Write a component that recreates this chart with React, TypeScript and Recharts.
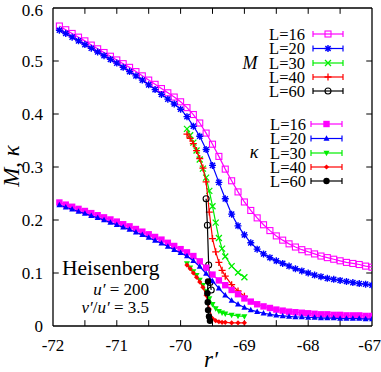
import { ComposedChart, Scatter, XAxis, YAxis, ReferenceLine } from 'recharts';

// r' grid of the L=16 / L=20 runs
const rLong = [
  -71.9, -71.8, -71.7, -71.6, -71.5, -71.4, -71.3, -71.2, -71.1, -71.0,
  -70.9, -70.8, -70.7, -70.6, -70.5, -70.4, -70.3, -70.2, -70.1, -70.0,
  -69.9, -69.8, -69.7, -69.6, -69.5, -69.4, -69.3, -69.2, -69.1, -69.0,
  -68.9, -68.8, -68.7, -68.6, -68.5, -68.4, -68.3, -68.2, -68.1, -68.0,
  -67.9, -67.8, -67.7, -67.6, -67.5, -67.4, -67.3, -67.2, -67.1, -67.0,
];
// r' grid of the L=30 / L=40 runs
const rShort = [
  -69.9, -69.85, -69.8, -69.75, -69.7, -69.65, -69.6, -69.55, -69.5, -69.45,
  -69.4, -69.35, -69.3, -69.2, -69.1, -69.0,
];
const rM60 = [-69.6, -69.58, -69.56, -69.54, -69.52];
const rK60 = [-69.57, -69.58, -69.575, -69.57, -69.555, -69.54];

const mL16 = [
  0.566, 0.559, 0.552, 0.545, 0.538, 0.530, 0.523, 0.516, 0.509, 0.502,
  0.495, 0.488, 0.480, 0.472, 0.464, 0.456, 0.448, 0.440, 0.432, 0.423,
  0.412, 0.399, 0.383, 0.364, 0.343, 0.320, 0.296, 0.274, 0.253, 0.234,
  0.218, 0.204, 0.191, 0.180, 0.170, 0.162, 0.155, 0.149, 0.144, 0.140,
  0.136, 0.132, 0.129, 0.126, 0.123, 0.120, 0.118, 0.116, 0.113, 0.111,
];
const mL20 = [
  0.558, 0.552, 0.545, 0.538, 0.531, 0.524, 0.517, 0.510, 0.503, 0.496,
  0.488, 0.480, 0.472, 0.464, 0.455, 0.446, 0.437, 0.428, 0.419, 0.409,
  0.395, 0.377, 0.358, 0.333, 0.303, 0.271, 0.240, 0.211, 0.189, 0.172,
  0.157, 0.145, 0.136, 0.129, 0.123, 0.118, 0.113, 0.108, 0.104, 0.100,
  0.096, 0.093, 0.090, 0.088, 0.086, 0.084, 0.082, 0.080, 0.079, 0.077,
];
const mL30 = [0.372, 0.360, 0.346, 0.331, 0.314, 0.297, 0.280, 0.255, 0.226, 0.195, 0.166, 0.146, 0.131, 0.113, 0.101, 0.092];
const mL40 = [0.362, 0.354, 0.344, 0.331, 0.316, 0.298, 0.272, 0.215, 0.165, 0.140, 0.120, 0.105, 0.094, 0.078, 0.066, 0.056];
const mL60 = [0.240, 0.190, 0.115, 0.082, 0.068];

const kL16 = [
  0.233, 0.229, 0.225, 0.221, 0.217, 0.213, 0.209, 0.205, 0.201, 0.197,
  0.192, 0.188, 0.183, 0.178, 0.173, 0.168, 0.163, 0.157, 0.151, 0.145,
  0.139, 0.132, 0.122, 0.110, 0.097, 0.086, 0.077, 0.068, 0.060, 0.052,
  0.046, 0.041, 0.037, 0.034, 0.031, 0.029, 0.027, 0.026, 0.025, 0.024,
  0.023, 0.022, 0.022, 0.021, 0.021, 0.020, 0.020, 0.020, 0.019, 0.019,
];
const kL20 = [
  0.228, 0.224, 0.220, 0.216, 0.212, 0.208, 0.204, 0.200, 0.195, 0.191,
  0.186, 0.182, 0.177, 0.172, 0.167, 0.161, 0.156, 0.150, 0.144, 0.138,
  0.132, 0.123, 0.112, 0.099, 0.085, 0.071, 0.058, 0.048, 0.041, 0.035,
  0.030, 0.027, 0.024, 0.022, 0.020, 0.019, 0.018, 0.017, 0.017, 0.016,
  0.016, 0.015, 0.015, 0.015, 0.014, 0.014, 0.014, 0.014, 0.013, 0.013,
];
const kL30 = [0.118, 0.110, 0.103, 0.096, 0.087, 0.077, 0.065, 0.052, 0.041, 0.033, 0.028, 0.025, 0.023, 0.021, 0.019, 0.018];
const kL40 = [0.115, 0.108, 0.100, 0.092, 0.083, 0.073, 0.058, 0.032, 0.014, 0.010, 0.008, 0.007, 0.007, 0.006, 0.006, 0.006];
const kL60 = [0.084, 0.062, 0.045, 0.030, 0.018, 0.010];

const xLabels = [-72, -71, -70, -69, -68, -67];
const yLabels = [0, 0.1, 0.2, 0.3, 0.4, 0.5, 0.6];
const xMinor = [-71.5, -71, -70.5, -70, -69.5, -69, -68.5, -68, -67.5];
const yMinor = [0.1, 0.2, 0.3, 0.4, 0.5];

const MAGENTA = '#ff00ff';
const BLUE = '#0000ff';
const GREEN = '#00ee00';
const RED = '#ff0000';
const BLACK = '#000000';

type Kind = 'sqOpen' | 'star' | 'cross' | 'plus' | 'circOpen' | 'sqFill' | 'triUp' | 'triDown' | 'dot' | 'circFill';

interface Series {
  label: string;
  group: 'M' | 'k';
  xs: number[];
  ys: number[];
  color: string;
  kind: Kind;
}

const series: Series[] = [
  { label: 'L=16', group: 'M', xs: rLong, ys: mL16, color: MAGENTA, kind: 'sqOpen' },
  { label: 'L=20', group: 'M', xs: rLong, ys: mL20, color: BLUE, kind: 'star' },
  { label: 'L=30', group: 'M', xs: rShort, ys: mL30, color: GREEN, kind: 'cross' },
  { label: 'L=40', group: 'M', xs: rShort, ys: mL40, color: RED, kind: 'plus' },
  { label: 'L=60', group: 'M', xs: rM60, ys: mL60, color: BLACK, kind: 'circOpen' },
  { label: 'L=16', group: 'k', xs: rLong, ys: kL16, color: MAGENTA, kind: 'sqFill' },
  { label: 'L=20', group: 'k', xs: rLong, ys: kL20, color: BLUE, kind: 'triUp' },
  { label: 'L=30', group: 'k', xs: rShort, ys: kL30, color: GREEN, kind: 'triDown' },
  { label: 'L=40', group: 'k', xs: rShort, ys: kL40, color: RED, kind: 'dot' },
  { label: 'L=60', group: 'k', xs: rK60, ys: kL60, color: BLACK, kind: 'circFill' },
];

function Marker({ kind, cx, cy, color }: { kind: Kind; cx: number; cy: number; color: string }) {
  const sw = 1.1;
  switch (kind) {
    case 'sqOpen':
      return <rect x={cx - 3} y={cy - 3} width={6} height={6} fill="none" stroke={color} strokeWidth={sw} />;
    case 'sqFill':
      return <rect x={cx - 3.2} y={cy - 3.2} width={6.4} height={6.4} fill={color} />;
    case 'star':
      return (
        <path
          d={`M${cx - 3.5},${cy}H${cx + 3.5}M${cx},${cy - 3.5}V${cy + 3.5}M${cx - 2.6},${cy - 2.6}L${cx + 2.6},${cy + 2.6}M${cx - 2.6},${cy + 2.6}L${cx + 2.6},${cy - 2.6}`}
          stroke={color}
          strokeWidth={1.4}
        />
      );
    case 'cross':
      return (
        <path
          d={`M${cx - 3},${cy - 3}L${cx + 3},${cy + 3}M${cx - 3},${cy + 3}L${cx + 3},${cy - 3}`}
          stroke={color}
          strokeWidth={1.3}
        />
      );
    case 'plus':
      return <path d={`M${cx - 3.5},${cy}H${cx + 3.5}M${cx},${cy - 3.5}V${cy + 3.5}`} stroke={color} strokeWidth={1.3} />;
    case 'circOpen':
      return <circle cx={cx} cy={cy} r={3} fill="none" stroke={color} strokeWidth={sw} />;
    case 'circFill':
      return <circle cx={cx} cy={cy} r={3.2} fill={color} />;
    case 'triUp':
      return <polygon points={`${cx},${cy - 3.3} ${cx - 3},${cy + 2.2} ${cx + 3},${cy + 2.2}`} fill={color} />;
    case 'triDown':
      return <polygon points={`${cx},${cy + 3.3} ${cx - 3},${cy - 2.2} ${cx + 3},${cy - 2.2}`} fill={color} />;
    case 'dot':
      return <polygon points={`${cx},${cy - 2.6} ${cx + 2.6},${cy} ${cx},${cy + 2.6} ${cx - 2.6},${cy}`} fill={color} />;
  }
  return null;
}

function LegendRow({ s, y, x0, x1, textRight }: { s: Series; y: number; x0: number; x1: number; textRight: number }) {
  return (
    <g>
      <text x={textRight} y={y + 5.5} textAnchor="end" fontSize={16.5} fill="#000">
        {s.label}
      </text>
      <line x1={x0} y1={y} x2={x1} y2={y} stroke={s.color} strokeWidth={1.2} />
      <line x1={x0} y1={y - 3} x2={x0} y2={y + 3} stroke={s.color} strokeWidth={1.2} />
      <line x1={x1} y1={y - 3} x2={x1} y2={y + 3} stroke={s.color} strokeWidth={1.2} />
      <Marker kind={s.kind} cx={(x0 + x1) / 2} cy={y} color={s.color} />
    </g>
  );
}

const mRows = [34, 48.5, 63, 77, 91];
const kRows = [124, 138.5, 153, 167, 181];

export default function App() {
  const tickStyle = { fontSize: 17, fill: '#000' };
  const dx = 0.09;
  const dy = 0.011;
  const mSeries = series.filter((s) => s.group === 'M');
  const kSeries = series.filter((s) => s.group === 'k');

  return (
    <div style={{ position: 'absolute', left: 0, top: 0, width: 381, height: 372, background: '#fff' }}>
      <style>{`svg text, svg tspan { font-family: 'Liberation Serif' !important; }`}</style>
      <ComposedChart width={381} height={372} margin={{ top: 8, right: 9, bottom: 16, left: 8 }}>
        <XAxis
          type="number"
          dataKey="x"
          domain={[-72, -67]}
          ticks={xLabels}
          tickLine={false}
          axisLine={{ stroke: '#000', strokeWidth: 1.3 }}
          tick={tickStyle}
          tickMargin={7}
          height={30}
          allowDataOverflow
        />
        <YAxis
          type="number"
          dataKey="y"
          domain={[0, 0.6]}
          ticks={yLabels}
          tickLine={false}
          axisLine={{ stroke: '#000', strokeWidth: 1.3 }}
          tick={tickStyle}
          tickMargin={4}
          tickFormatter={(v: number) => (v === 0 ? '0' : v.toFixed(1))}
          width={45}
          allowDataOverflow
        />
        <ReferenceLine y={0.6} stroke="#000" strokeWidth={1.3} />
        <ReferenceLine x={-67} stroke="#000" strokeWidth={1.3} />
        {xMinor.map((x) => (
          <ReferenceLine key={`b${x}`} segment={[{ x, y: 0 }, { x, y: dy }]} stroke="#000" strokeWidth={1} />
        ))}
        {xMinor.map((x) => (
          <ReferenceLine key={`t${x}`} segment={[{ x, y: 0.6 }, { x, y: 0.6 - dy }]} stroke="#000" strokeWidth={1} />
        ))}
        {yMinor.map((y) => (
          <ReferenceLine key={`l${y}`} segment={[{ x: -72, y }, { x: -72 + dx, y }]} stroke="#000" strokeWidth={1} />
        ))}
        {yMinor.map((y) => (
          <ReferenceLine key={`r${y}`} segment={[{ x: -67, y }, { x: -67 - dx, y }]} stroke="#000" strokeWidth={1} />
        ))}
        {series.map((s, i) => (
          <Scatter
            key={i}
            data={s.xs.map((x, j) => ({ x, y: s.ys[j] }))}
            fill={s.color}
            line={{ stroke: s.color, strokeWidth: 1.2 }}
            lineType="joint"
            legendType="none"
            isAnimationActive={false}
            shape={(p: any) => <Marker kind={s.kind} cx={p.cx} cy={p.cy} color={s.color} />}
          />
        ))}
      </ComposedChart>

      <svg width={381} height={372} style={{ position: 'absolute', left: 0, top: 0, pointerEvents: 'none' }}>
        {/* legend */}
        <text x={250} y={69} textAnchor="middle" fontSize={18} fontStyle="italic">M</text>
        {mSeries.map((s, i) => (
          <LegendRow key={`m${i}`} s={s} y={mRows[i]} x0={313} x1={343} textRight={305} />
        ))}
        <text x={254} y={158} textAnchor="middle" fontSize={18} fontStyle="italic">κ</text>
        {kSeries.map((s, i) => (
          <LegendRow key={`k${i}`} s={s} y={kRows[i]} x0={311} x1={342} textRight={306} />
        ))}

        {/* annotation */}
        <text x={62} y={275} fontSize={21.5}>Heisenberg</text>
        <text x={149} y={295} textAnchor="end" fontSize={17}>
          <tspan fontStyle="italic">u′</tspan> = 200
        </text>
        <text x={149} y={313} textAnchor="end" fontSize={17}>
          <tspan fontStyle="italic">v′</tspan>/<tspan fontStyle="italic">u′</tspan> = 3.5
        </text>

        {/* axis titles */}
        <text x={19} y={166} transform="rotate(-90 19 166)" textAnchor="middle" fontSize={23}>
          <tspan fontStyle="italic">M</tspan>, <tspan fontStyle="italic">κ</tspan>
        </text>
        <text x={211} y={367} textAnchor="middle" fontSize={23} fontStyle="italic">r′</text>
      </svg>
    </div>
  );
}
